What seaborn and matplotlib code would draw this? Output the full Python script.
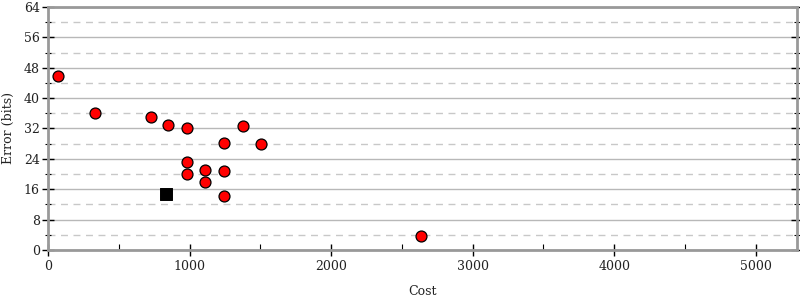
import matplotlib
matplotlib.use("Agg")
import matplotlib.pyplot as plt
from matplotlib.ticker import MultipleLocator
import seaborn as sns
import pandas as pd

cost = [68, 334, 725, 850, 981, 1379, 1508, 1245, 981, 979, 1111, 1243, 1106, 1240, 2636]
error = [45.7, 36.0, 35.0, 32.8, 32.0, 32.6, 27.9, 28.2, 23.2, 19.9, 21.0, 20.8, 18.0, 14.3, 3.75]
best_cost = [833]
best_error = [14.7]

sns.set_theme(style="white")
plt.rcParams['font.family'] = ['DejaVu Serif']

df = pd.DataFrame({"Cost": cost, "Error (bits)": error})
df_best = pd.DataFrame({"Cost": best_cost, "Error (bits)": best_error})

fig = plt.figure(figsize=(8, 3), dpi=100)
ax = fig.add_axes([0.06, 0.1667, 0.936, 0.81])

sns.scatterplot(data=df, x="Cost", y="Error (bits)", ax=ax, color="#ff0000",
                edgecolor="black", linewidth=0.9, s=62, zorder=5)
sns.scatterplot(data=df_best, x="Cost", y="Error (bits)", ax=ax, color="black",
                marker="s", edgecolor="black", s=75, zorder=5)

ax.set_xlim(0, 5290)
ax.set_ylim(0, 64)
ax.xaxis.set_major_locator(MultipleLocator(1000))
ax.xaxis.set_minor_locator(MultipleLocator(500))
ax.yaxis.set_major_locator(MultipleLocator(8))
ax.yaxis.set_minor_locator(MultipleLocator(4))

ax.grid(False)
ax.grid(axis="y", which="major", color="#b8b8b8", linestyle="-", linewidth=1.0)
ax.grid(axis="y", which="minor", color="#c8c8c8", linestyle=(0, (5, 4)), linewidth=1.0)
ax.set_axisbelow(True)

for side in ["left", "bottom", "right", "top"]:
    ax.spines[side].set_visible(True)
    ax.spines[side].set_color("#999999")
    ax.spines[side].set_linewidth(2.0)

ax.tick_params(axis="both", which="both", direction="inout", color="black",
               labelsize=9, labelcolor="#222222")
ax.tick_params(axis="y", which="major", length=8, width=1, right=True, left=True, pad=2)
ax.tick_params(axis="y", which="minor", length=5, width=0.8, right=True, left=True)
ax.tick_params(axis="x", which="major", length=9, width=1, bottom=True, pad=3)
ax.tick_params(axis="x", which="minor", length=4, width=0.8, bottom=True, direction="in")

ax.set_xlabel("Cost", fontsize=9, labelpad=8.5, color="#222222")
ax.set_ylabel("Error (bits)", fontsize=9, labelpad=6, color="#222222")

fig.savefig("out.png", dpi=100)
